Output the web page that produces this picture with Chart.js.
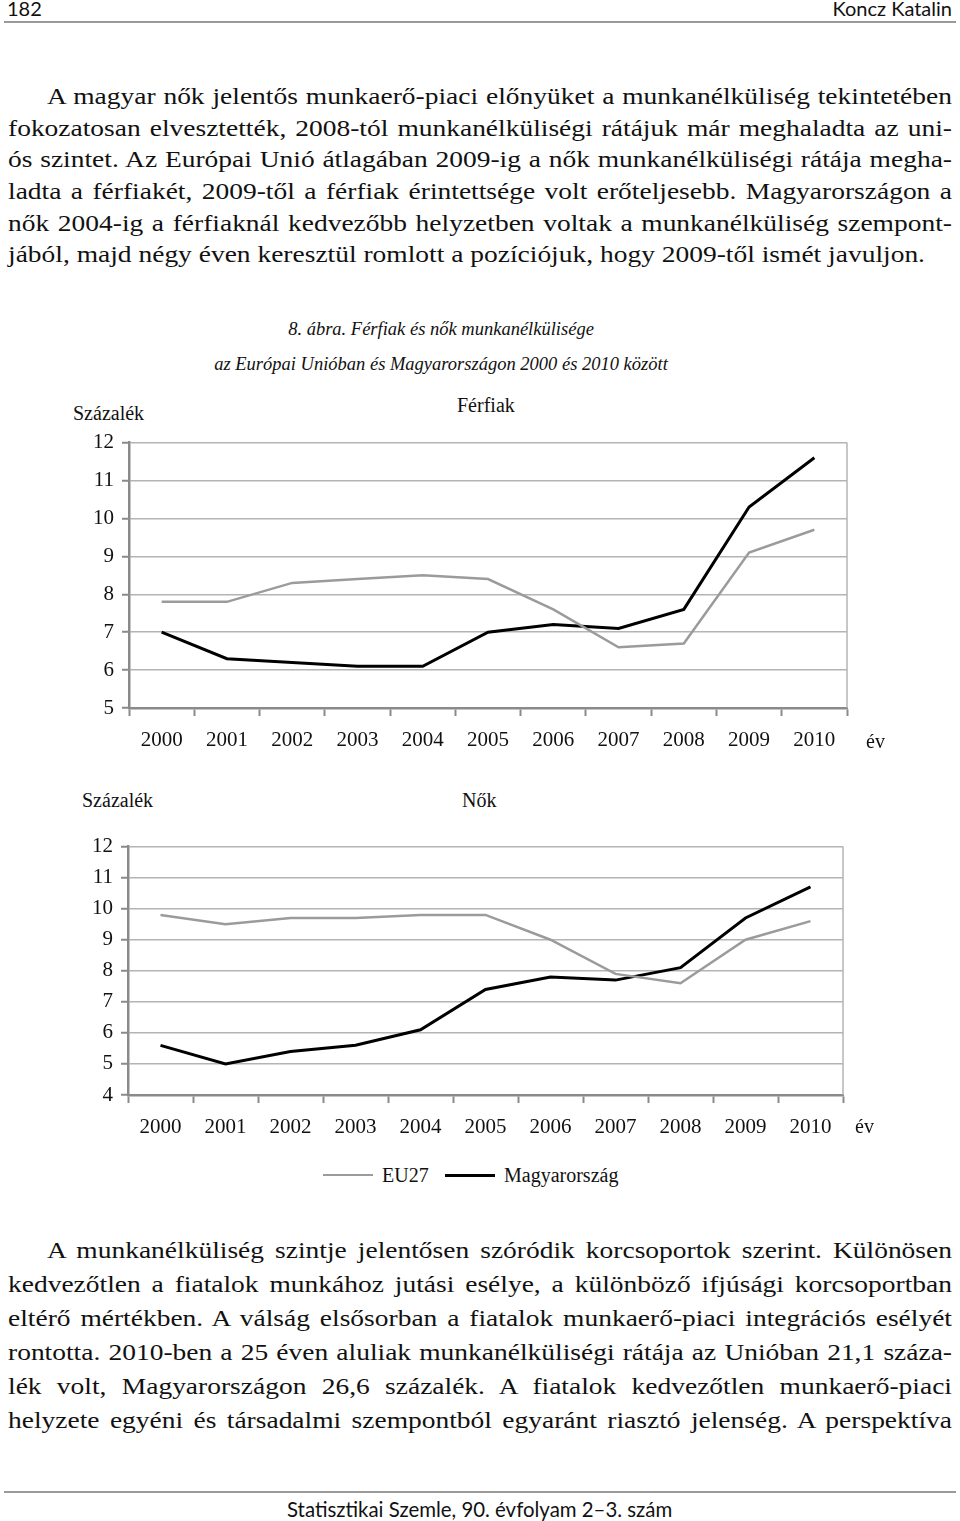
<!DOCTYPE html>
<html lang="hu">
<head>
<meta charset="utf-8">
<script src="https://cdn.jsdelivr.net/npm/chart.js@4.4.1/dist/chart.umd.min.js"></script>
<style>
  html, body { margin: 0; padding: 0; background: #fff; }
  body { position: relative; width: 960px; height: 1521px; overflow: hidden; color: #111; font-family: "Liberation Serif", "Times New Roman", serif; }
  .abs { position: absolute; white-space: nowrap; }
  .rule { position: absolute; left: 4px; width: 952px; height: 0; border-top: 2px solid #9a9a9a; }
  .head { font-family: Lato, "DejaVu Sans", sans-serif; font-size: 20px; line-height: 22px; }
  .ln { position: absolute; left: 8px; font-size: 23px; line-height: 30px; height: 30px; white-space: nowrap; text-align: justify; text-align-last: justify; transform-origin: 0 0; }
  .ln.last { text-align: left; text-align-last: left; }
  .ln.ind { left: 47px; }
  .cap { position: absolute; left: 0; width: 882px; text-align: center; font-style: italic; font-size: 18.5px; line-height: 24px; }
  .lbl { font-size: 20px; line-height: 24px; }
  canvas { position: absolute; }
  .leg { position: absolute; top: 1160px; left: 0; height: 30px; font-size: 20px; }
  .leg i { display: inline-block; width: 50px; margin-right: 9px; }
</style>
</head>
<body>
<div class="abs head" style="left:7px;top:-3px;">182</div>
<div class="abs head" style="right:8px;top:-3px;">Koncz Katalin</div>
<div class="rule" style="top:21px;"></div>

<div class="ln ind" style="top:82px;">A magyar nők jelentős munkaerő-piaci előnyüket a munkanélküliség tekintetében</div>
<div class="ln" style="top:114px;">fokozatosan elvesztették, 2008-tól munkanélküliségi rátájuk már meghaladta az uni-</div>
<div class="ln" style="top:145px;">ós szintet. Az Európai Unió átlagában 2009-ig a nők munkanélküliségi rátája megha-</div>
<div class="ln" style="top:177px;">ladta a férfiakét, 2009-től a férfiak érintettsége volt erőteljesebb. Magyarországon a</div>
<div class="ln" style="top:209px;">nők 2004-ig a férfiaknál kedvezőbb helyzetben voltak a munkanélküliség szempont-</div>
<div class="ln last" style="top:240px;">jából, majd négy éven keresztül romlott a pozíciójuk, hogy 2009-től ismét javuljon.</div>

<div class="cap" style="top:317px;">8. ábra. Férfiak és nők munkanélkülisége</div>
<div class="cap" style="top:352px;">az Európai Unióban és Magyarországon 2000 és 2010 között</div>

<div class="abs lbl" style="left:73px;top:401px;">Százalék</div>
<div class="abs lbl" style="left:457px;top:393px;">Férfiak</div>
<canvas id="chartMen" style="left:60px;top:430px;" width="820" height="330"></canvas>
<div class="abs lbl" style="left:866px;top:729px;">év</div>

<div class="abs lbl" style="left:82px;top:788px;">Százalék</div>
<div class="abs lbl" style="left:462px;top:788px;">Nők</div>
<canvas id="chartWomen" style="left:60px;top:835px;" width="820" height="310"></canvas>
<div class="abs lbl" style="left:855px;top:1114px;">év</div>

<div class="leg" id="legend"></div>

<div class="ln ind" style="top:1236px;">A munkanélküliség szintje jelentősen szóródik korcsoportok szerint. Különösen</div>
<div class="ln" style="top:1270px;">kedvezőtlen a fiatalok munkához jutási esélye, a különböző ifjúsági korcsoportban</div>
<div class="ln" style="top:1304px;">eltérő mértékben. A válság elsősorban a fiatalok munkaerő-piaci integrációs esélyét</div>
<div class="ln" style="top:1338px;">rontotta. 2010-ben a 25 éven aluliak munkanélküliségi rátája az Unióban 21,1 száza-</div>
<div class="ln" style="top:1372px;">lék volt, Magyarországon 26,6 százalék. A fiatalok kedvezőtlen munkaerő-piaci</div>
<div class="ln" style="top:1406px;">helyzete egyéni és társadalmi szempontból egyaránt riasztó jelenség. A perspektíva</div>

<div class="rule" style="top:1491px;"></div>
<div class="abs head" style="left:287px;top:1498px;font-size:20.4px;">Statisztikai Szemle, 90. évfolyam 2–3. szám</div>

<script>
const years = ['2000', '2001', '2002', '2003', '2004', '2005', '2006', '2007', '2008', '2009', '2010'];

// Férfiak
const menEU = [7.8, 7.8, 8.3, 8.4, 8.5, 8.4, 7.6, 6.6, 6.7, 9.1, 9.7];
const menHU = [7.0, 6.3, 6.2, 6.1, 6.1, 7.0, 7.2, 7.1, 7.6, 10.3, 11.6];
const menTicks = [5, 6, 7, 8, 9, 10, 11, 12];

// Nők
const womenEU = [9.8, 9.5, 9.7, 9.7, 9.8, 9.8, 9.0, 7.9, 7.6, 9.0, 9.6];
const womenHU = [5.6, 5.0, 5.4, 5.6, 6.1, 7.4, 7.8, 7.7, 8.1, 9.7, 10.7];
const womenTicks = [4, 5, 6, 7, 8, 9, 10, 11, 12];

const seriesNames = ['EU27', 'Magyarország'];
const seriesColors = ['#9b9b9b', '#000000'];
const seriesWidths = [2.5, 3];

const serif = '"Liberation Serif", "Times New Roman", serif';

// body text: the printed type is wider than Times, so each line is stretched a little
(function fitLines() {
    const lines = document.querySelectorAll('.ln');
    const last = document.querySelector('.ln.last');
    last.style.width = 'max-content';
    const stretch = 917 / last.getBoundingClientRect().width;
    lines.forEach(el => {
        const target = 952 - parseFloat(getComputedStyle(el).left);
        el.style.width = 'max-content';
        const natural = el.getBoundingClientRect().width;
        const s = el.classList.contains('last') ? stretch : Math.min(stretch, target / natural);
        if (!el.classList.contains('last')) el.style.width = (target / s) + 'px';
        el.style.transform = `scaleX(${s})`;
    });
})();

// light grey frame line on the right edge of the plot
const rightBorder = {
    id: 'rightBorder',
    afterDraw(chart) {
        const { ctx, chartArea } = chart;
        ctx.save();
        ctx.strokeStyle = '#b4b4b4';
        ctx.lineWidth = 1.5;
        ctx.beginPath();
        ctx.moveTo(chartArea.right, chartArea.top);
        ctx.lineTo(chartArea.right, chartArea.bottom);
        ctx.stroke();
        ctx.restore();
    }
};

function makeChart(id, eu, hu, ticks, box) {
    const canvas = document.getElementById(id);
    const chart = new Chart(canvas.getContext('2d'), {
        type: 'line',
        data: {
            labels: years,
            datasets: [eu, hu].map((values, i) => ({
                label: seriesNames[i],
                data: values,
                borderColor: seriesColors[i],
                borderWidth: seriesWidths[i],
                pointRadius: 0,
                tension: 0,
                fill: false
            }))
        },
        options: {
            responsive: false,
            maintainAspectRatio: false,
            animation: false,
            layout: { padding: { top: 0, right: 40, left: 0, bottom: 0 } },
            plugins: { legend: { display: false }, tooltip: { enabled: false } },
            scales: {
                x: {
                    offset: true,
                    grid: { offset: true, drawOnChartArea: false, drawTicks: true, tickLength: 8, tickColor: '#8a8a8a', tickWidth: 2 },
                    border: { color: '#8a8a8a', width: 2.5 },
                    ticks: { color: '#111', font: { family: serif, size: 21 }, padding: 12, maxRotation: 0, autoSkip: false },
                    afterFit: s => { s.height = box.xh; }
                },
                y: {
                    min: ticks[0],
                    max: ticks[ticks.length - 1],
                    afterBuildTicks: s => { s.ticks = ticks.map(v => ({ value: v })); },
                    grid: { color: '#b4b4b4', lineWidth: 1.5, tickLength: 7, tickColor: '#8a8a8a', tickWidth: 2 },
                    border: { color: '#8a8a8a', width: 2.5 },
                    ticks: { color: '#111', font: { family: serif, size: 21 }, padding: 8 },
                    afterFit: s => { s.width = box.yw; }
                }
            }
        },
        plugins: [rightBorder]
    });

    // size and place the canvas so the plot area lands on the wanted box
    let a = chart.chartArea;
    chart.resize(Math.round(chart.width + (box.right - box.left) - (a.right - a.left)),
                 Math.round(chart.height + (box.bottom - box.top) - (a.bottom - a.top)));
    a = chart.chartArea;
    canvas.style.left = (box.left - a.left) + 'px';
    canvas.style.top = (box.top - a.top) + 'px';
    return chart;
}

makeChart('chartMen', menEU, menHU, menTicks, { left: 129, right: 847, top: 443, bottom: 708, xh: 52, yw: 69 });
makeChart('chartWomen', womenEU, womenHU, womenTicks, { left: 128, right: 843, top: 847, bottom: 1095, xh: 50, yw: 68 });

// shared legend under the second chart
const legend = document.getElementById('legend');
seriesNames.forEach((name, i) => {
    const item = document.createElement('span');
    item.style.position = 'absolute';
    item.style.top = '0';
    item.style.left = (i === 0 ? 323 : 445) + 'px';
    item.style.whiteSpace = 'nowrap';
    item.style.display = 'flex';
    item.style.alignItems = 'center';
    item.style.height = '30px';
    item.innerHTML = `<i style="background:${seriesColors[i]};height:${seriesWidths[i]}px"></i>${name}`;
    legend.appendChild(item);
});
</script>
</body>
</html>
